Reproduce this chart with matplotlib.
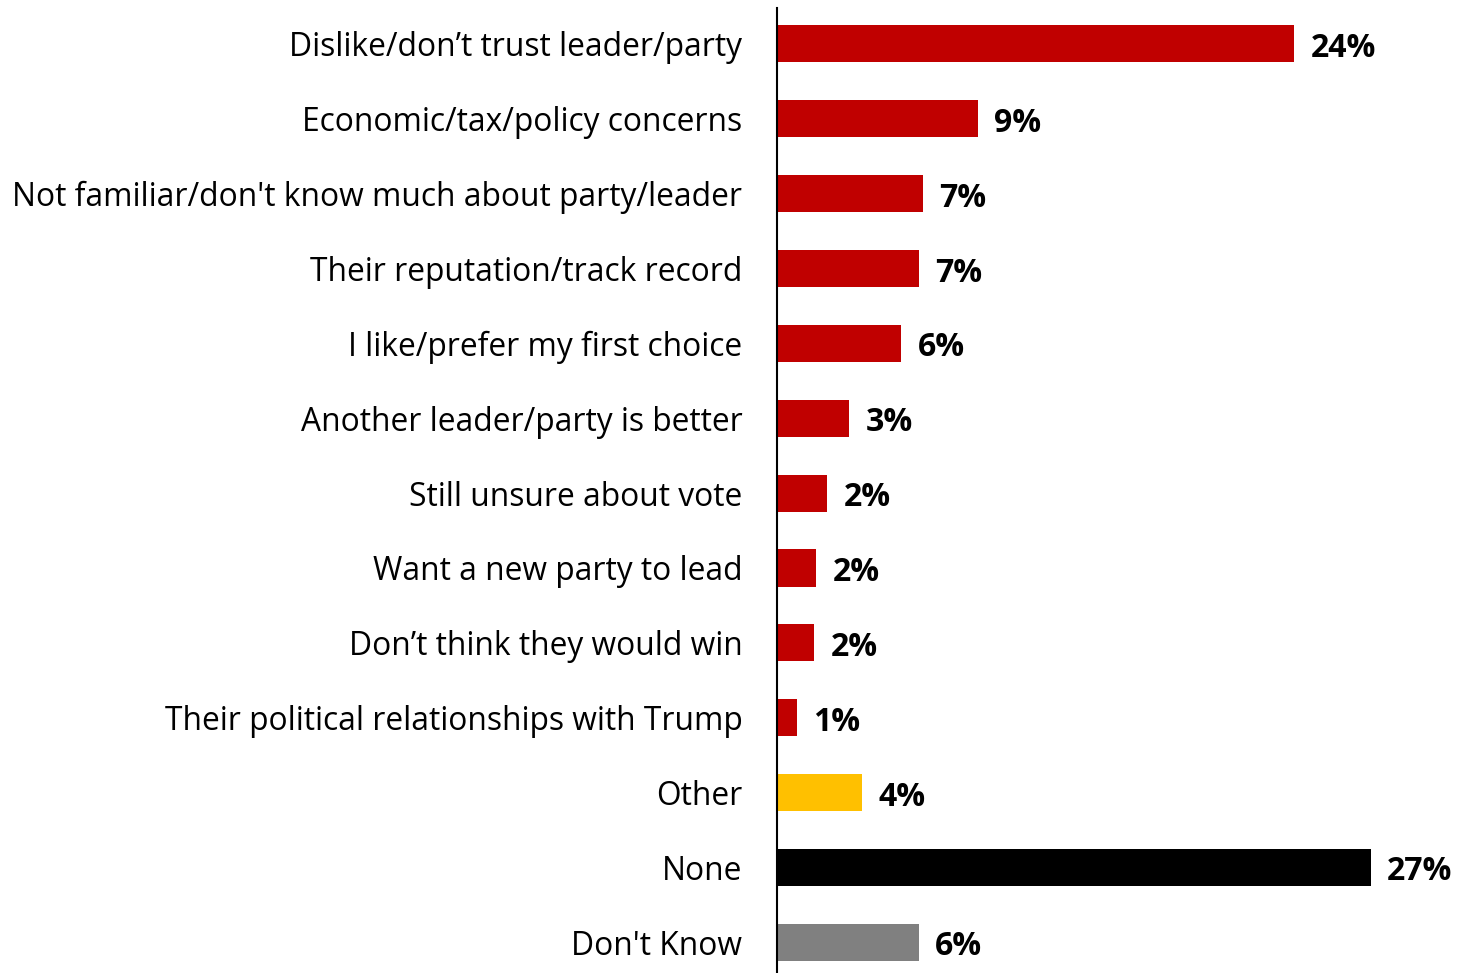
import matplotlib
matplotlib.use("Agg")
import matplotlib.pyplot as plt

categories = [
    "Dislike/don\u2019t trust leader/party",
    "Economic/tax/policy concerns",
    "Not familiar/don't know much about party/leader",
    "Their reputation/track record",
    "I like/prefer my first choice",
    "Another leader/party is better",
    "Still unsure about vote",
    "Want a new party to lead",
    "Don\u2019t think they would win",
    "Their political relationships with Trump",
    "Other",
    "None",
    "Don't Know",
]
values = [23.7, 9.2, 6.7, 6.5, 5.7, 3.3, 2.3, 1.8, 1.7, 0.9, 3.9, 27.2, 6.5]
value_labels = ["24%", "9%", "7%", "7%", "6%", "3%", "2%", "2%", "2%", "1%", "4%", "27%", "6%"]
colors = ["#C00000"] * 10 + ["#FFC000", "#000000", "#808080"]

plt.rcParams['font.family'] = ['Open Sans', 'DejaVu Sans']

fig = plt.figure(figsize=(14.58, 9.73), dpi=100)
ax = fig.add_axes([777 / 1458, 0.0, 1 - 777 / 1458, 965 / 973])

y = list(range(len(categories)))
ax.barh(y, values, height=0.495, color=colors)

# value labels to the right of each bar
for yi, v, lab in zip(y, values, value_labels):
    ax.text(v + 0.75, yi + 0.06, lab, va="center", ha="left", fontsize=23, fontweight="bold")

ax.set_xlim(0, 31.2)
ax.set_ylim(12.41, -0.48)
ax.set_yticks(y)
ax.set_yticklabels(categories, fontsize=22.9)
ax.tick_params(axis="y", length=0, pad=25)
ax.set_xticks([])

for side in ["top", "right", "bottom"]:
    ax.spines[side].set_visible(False)
ax.spines["left"].set_linewidth(1.5)

fig.savefig("out.png", dpi=100)
